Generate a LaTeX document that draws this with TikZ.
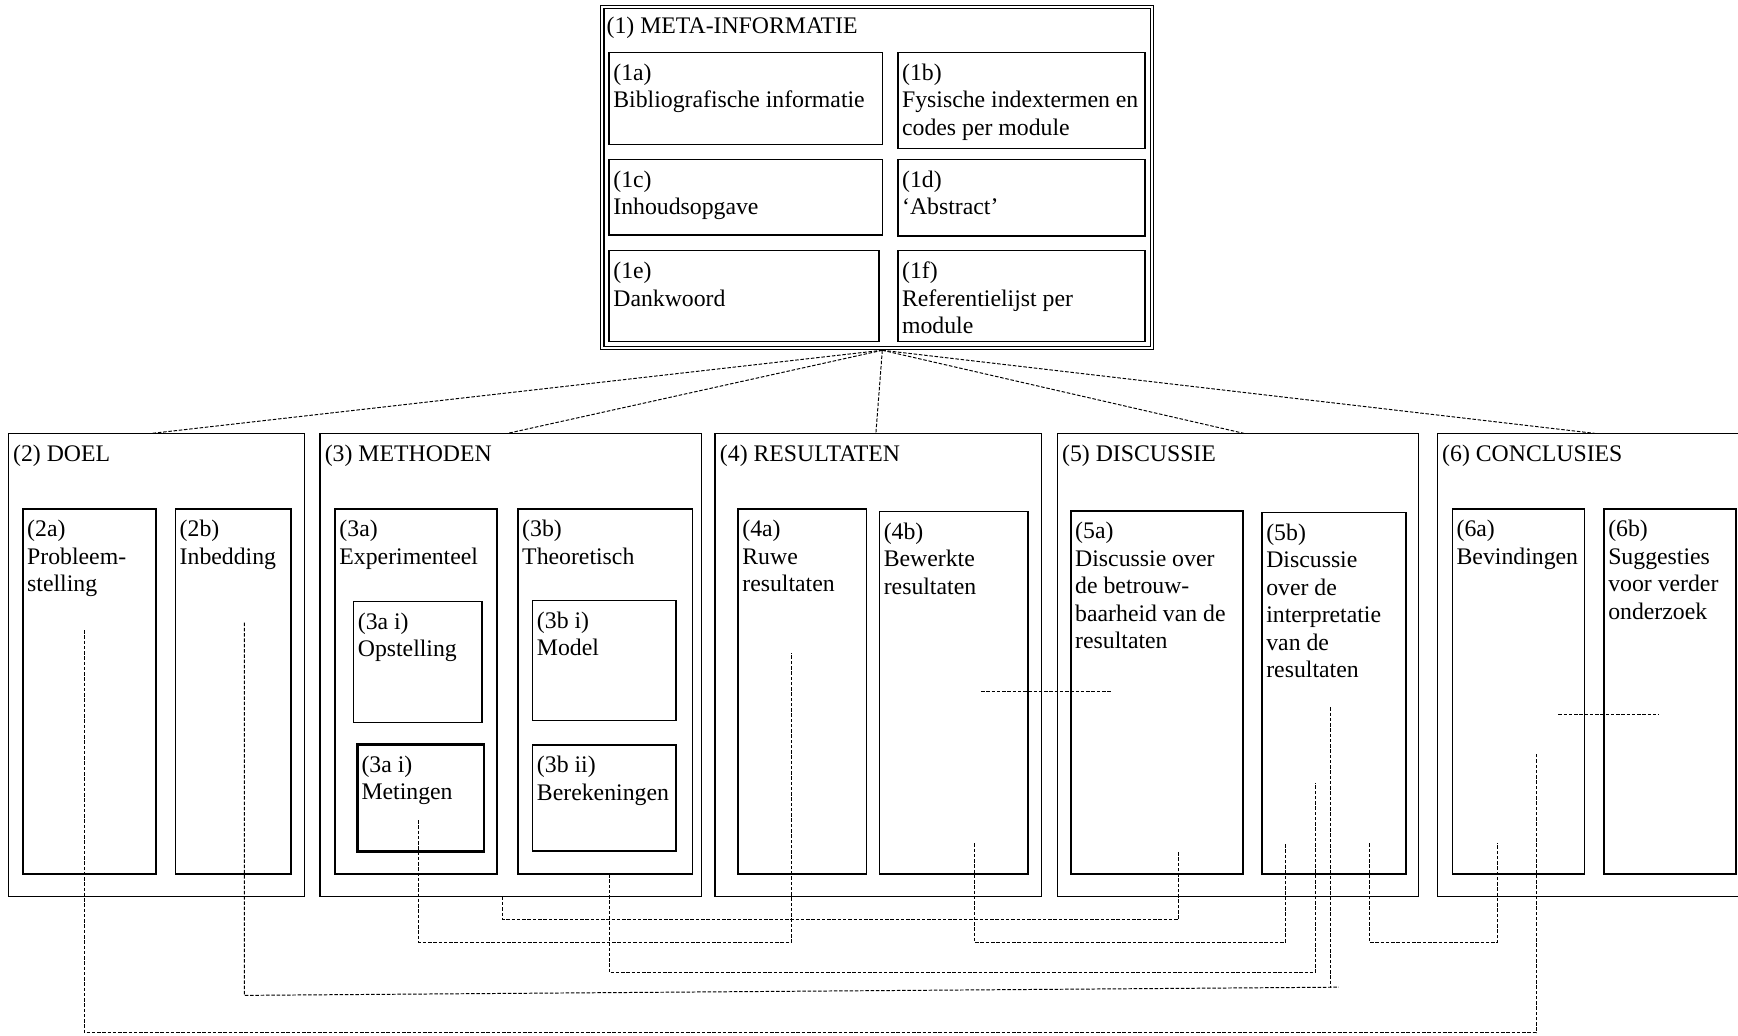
\documentclass[tikz,border=0pt]{standalone}
\usepackage{fontspec}
\setmainfont{Liberation Serif}
\usetikzlibrary{positioning}
\tikzset{kader/.style={draw, line width=0.75pt}, dikkader/.style={draw, line width=1.3pt}}
\tikzstyle{tekst} = [anchor=north west, inner sep=0pt, align=left, font=\fontsize{12.2}{14.1}\selectfont, yshift=-0.198cm]
\tikzstyle{lijn} = [line width=0.5pt, dash pattern=on 1.8pt off 0.9pt]

\begin{document}
\begin{tikzpicture}[x=0.02cm, y=-0.02cm]
\useasboundingbox (0,0) rectangle (1568,934);
% 顶部的 (1) 框, 双线边框
\draw[line width=0.6pt, double, double distance=1pt] (543.5,6.5) rectangle (1039.5,314);
\node[tekst] (t1) at (547,5.4) {(1) META-INFORMATIE};
\draw[kader] (549.4,47.5) rectangle (796.3,130.2);
\node[tekst] (t1a) at (553,47.5) {(1a)\\Bibliografische informatie};
\draw[kader] (810,47.5) rectangle (1033,133.8);
\node[tekst] (t1b) at (813.5,47.5) {(1b)\\Fysische indextermen en\\codes per module};
\draw[kader] (549.4,143.7) rectangle (796.3,212);
\node[tekst] (t1c) at (553,143.7) {(1c)\\Inhoudsopgave};
\draw[kader] (810,143.7) rectangle (1033,213);
\node[tekst] (t1d) at (813.5,143.7) {(1d)\\‘Abstract’};
\draw[kader] (549.4,226.2) rectangle (793,308.3);
\node[tekst] (t1e) at (553,226.2) {(1e)\\Dankwoord};
\draw[kader] (810,226.2) rectangle (1033,308.3);
\node[tekst] (t1f) at (813.5,226.2) {(1f)\\Referentielijst per\\module};

% 下面一排的五个大框
\draw[kader] (7.5,391) rectangle (274.7,809);
\node[tekst] (t2) at (11.5,391) {(2) DOEL};
\draw[kader] (288.7,391) rectangle (633.1,809);
\node[tekst] (t3) at (292.7,391) {(3) METHODEN};
\draw[kader] (645.2,391) rectangle (939.4,809);
\node[tekst] (t4) at (649.2,391) {(4) RESULTATEN};
\draw[kader] (953.9,391) rectangle (1279.6,809);
\node[tekst] (t5) at (957.9,391) {(5) DISCUSSIE};
\draw[kader] (1590,391) -- (1296.8,391) -- (1296.8,809) -- (1590,809);
\node[tekst] (t6) at (1300.8,391) {(6) CONCLUSIES};

% (2) 中的小框
\draw[kader] (20.7,459.2) rectangle (140.9,788.5);
\node[tekst] (t2a) at (24.2,459.2) {(2a)\\Probleem-\\stelling};
\draw[kader] (158.3,459.2) rectangle (262.7,788.5);
\node[tekst] (t2b) at (161.8,459.2) {(2b)\\Inbedding};

% (3) 中的小框
\draw[kader] (302.4,459.2) rectangle (448.3,788.5);
\node[tekst] (t3a) at (305.9,459.2) {(3a)\\Experimenteel};
\draw[kader] (467.3,459.2) rectangle (624.8,788.5);
\node[tekst] (t3b) at (470.8,459.2) {(3b)\\Theoretisch};
\draw[kader] (319,542.8) rectangle (435,651.7);
\node[tekst] (t3ai) at (322.5,542.8) {(3a i)\\Opstelling};
\draw[dikkader] (322.3,671.5) rectangle (436.7,768.4);
\node[tekst] (t3aii) at (325.8,671.5) {(3a i)\\Metingen};
\draw[kader] (480.6,541.6) rectangle (609.9,650.2);
\node[tekst] (t3bi) at (484.1,541.6) {(3b i)\\Model};
\draw[kader] (480.6,672.1) rectangle (609.9,767.8);
\node[tekst] (t3bii) at (484.1,672.1) {(3b ii)\\Berekeningen};

% (4) 中的小框
\draw[kader] (665.9,459.2) rectangle (781.9,788.5);
\node[tekst] (t4a) at (669.4,459.2) {(4a)\\Ruwe\\resultaten};
\draw[kader] (793.5,461.6) rectangle (927.4,788.5);
\node[tekst] (t4b) at (797,461.6) {(4b)\\Bewerkte\\resultaten};

% (5) 中的小框
\draw[dikkader] (966.2,461) rectangle (1121.6,788.5);
\node[tekst] (t5a) at (969.7,461) {(5a)\\Discussie over\\de betrouw-\\baarheid van de\\resultaten};
\draw[kader] (1138.6,462.2) rectangle (1268.4,788.5);
\node[tekst] (t5b) at (1142.1,462.2) {(5b)\\Discussie\\over de\\interpretatie\\van de\\resultaten};

% (6) 中的小框
\draw[kader] (1310.3,459.2) rectangle (1429.7,788.5);
\node[tekst] (t6a) at (1313.8,459.2) {(6a)\\Bevindingen};
\draw[kader] (1447.1,459.2) rectangle (1566.2,788.5);
\node[tekst] (t6b) at (1450.6,459.2) {(6b)\\Suggesties\\voor verder\\onderzoek};

% 从 (1) 到各大框的虚线
\coordinate (m) at (796,316);
\coordinate (k2) at (136.7,391);
\coordinate (k3) at (457.8,391);
\coordinate (k4) at (790.2,391);
\coordinate (k5) at (1122.4,391);
\coordinate (k6) at (1439,391);
\foreach \k in {k2,k3,k4,k5,k6}
  \draw[lijn] (m) -- (\k);

% 下方连线的端点
\coordinate (p2a) at (76.2,568.4);
\coordinate (p2b) at (220.4,561.8);
\coordinate (p3) at (453.6,809);
\coordinate (p3aii) at (377.8,739.8);
\coordinate (p3b) at (549.7,788.5);
\coordinate (p4a) at (714.4,589.4);
\coordinate (p4b) at (878.8,760.8);
\coordinate (p5a) at (1063.6,769);
\coordinate (p5b1) at (1159.8,760.8);
\coordinate (p5b2) at (1186.7,706.7);
\coordinate (p5b3) at (1200.4,638.1);
\coordinate (p5b4) at (1235.1,760.8);
\coordinate (p6a1) at (1351.2,760.8);
\coordinate (p6a2) at (1385.8,679.7);
% 各条连线的高度
\coordinate (h1) at (0,829.4);
\coordinate (h2) at (0,849.9);
\coordinate (h3) at (0,877.5);
\coordinate (h5) at (0,931.7);

\draw[lijn] (p3) |- (p5a |- h1) -- (p5a);
\draw[lijn] (p3aii) |- (p4a |- h2) -- (p4a);
\draw[lijn] (p4b) |- (p5b1 |- h2) -- (p5b1);
\draw[lijn] (p5b4) |- (p6a1 |- h2) -- (p6a1);
\draw[lijn] (p3b) |- (p5b2 |- h3) -- (p5b2);
\draw[lijn] (p2b) -- (220.4,898) -- (1208,890.6);
\draw[lijn] (p5b3) -- (1200.4,891.1);
\draw[lijn] (p2a) |- (p6a2 |- h5) -- (p6a2);

% 框之间的水平虚线
\coordinate (q4b) at (885.1,624);
\coordinate (q5a) at (1002.3,624);
\draw[lijn] (q4b) -- (q5a);
\coordinate (q6a) at (1405.9,644.2);
\coordinate (q6b) at (1496.1,644.2);
\draw[lijn] (q6a) -- (q6b);
\end{tikzpicture}
\end{document}
